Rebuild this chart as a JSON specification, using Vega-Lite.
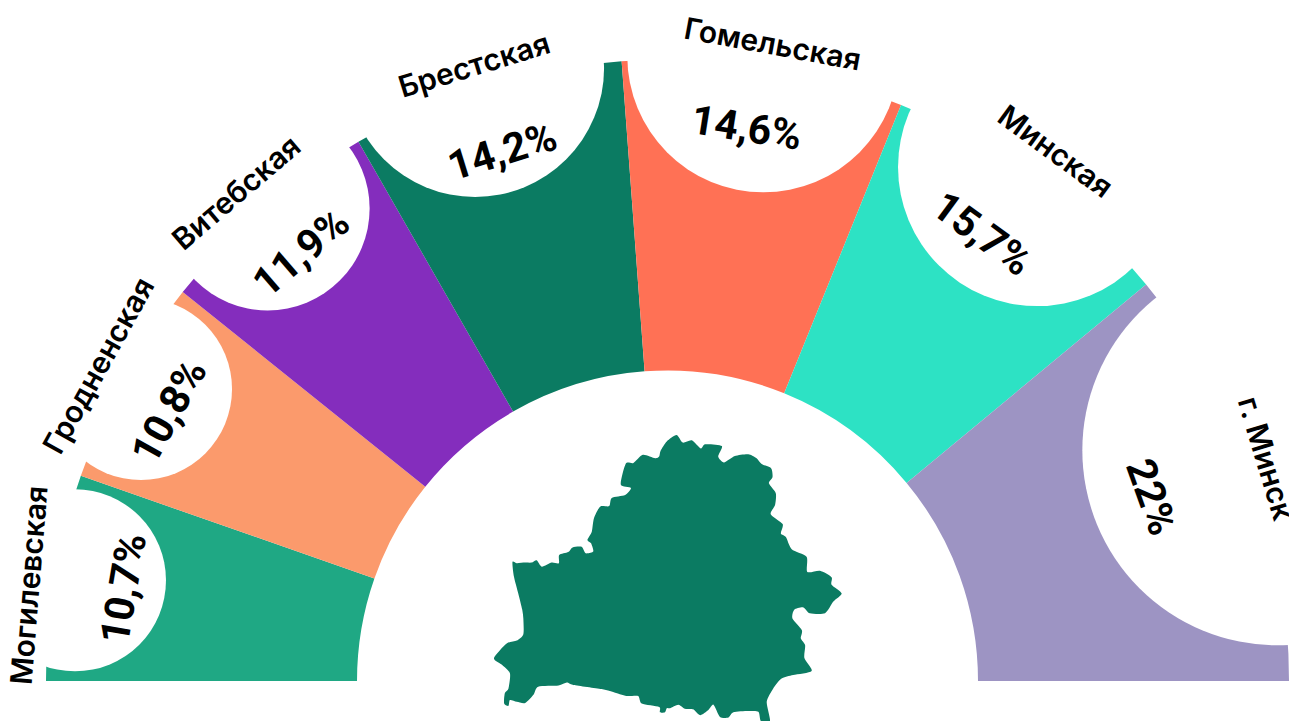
{"$schema":"https://vega.github.io/schema/vega-lite/v6.json","width":1289,"height":721,"padding":0,"autosize":{"type":"none"},"background":"white","config":{"view":{"stroke":null}},"datasets":{"regions":[{"region":"Могилевская","share":10.7,"label":"10,7%","rank":1},{"region":"Гродненская","share":10.8,"label":"10,8%","rank":2},{"region":"Витебская","share":11.9,"label":"11,9%","rank":3},{"region":"Брестская","share":14.2,"label":"14,2%","rank":4},{"region":"Гомельская","share":14.6,"label":"14,6%","rank":5},{"region":"Минская","share":15.7,"label":"15,7%","rank":6},{"region":"г. Минск","share":22,"label":"22%","rank":7}],"outline":[{"n":1,"lon":23.69,"lat":53.99},{"n":2,"lon":23.81,"lat":53.97},{"n":3,"lon":24.04,"lat":53.98},{"n":4,"lon":24.22,"lat":53.98},{"n":5,"lon":24.36,"lat":54.02},{"n":6,"lon":24.5,"lat":53.91},{"n":7,"lon":24.77,"lat":53.98},{"n":8,"lon":24.97,"lat":53.97},{"n":9,"lon":24.98,"lat":54.11},{"n":10,"lon":25.23,"lat":54.16},{"n":11,"lon":25.35,"lat":54.24},{"n":12,"lon":25.6,"lat":54.25},{"n":13,"lon":25.71,"lat":54.14},{"n":14,"lon":25.92,"lat":54.17},{"n":15,"lon":25.86,"lat":54.31},{"n":16,"lon":25.76,"lat":54.37},{"n":17,"lon":25.88,"lat":54.51},{"n":18,"lon":25.94,"lat":54.74},{"n":19,"lon":26.11,"lat":54.94},{"n":20,"lon":26.36,"lat":54.95},{"n":21,"lon":26.43,"lat":55.09},{"n":22,"lon":26.8,"lat":55.14},{"n":23,"lon":26.96,"lat":55.26},{"n":24,"lon":26.68,"lat":55.32},{"n":25,"lon":26.82,"lat":55.68},{"n":26,"lon":27.03,"lat":55.69},{"n":27,"lon":27.29,"lat":55.83},{"n":28,"lon":27.63,"lat":55.77},{"n":29,"lon":27.74,"lat":55.8},{"n":30,"lon":27.78,"lat":55.9},{"n":31,"lon":27.95,"lat":56.06},{"n":32,"lon":28.22,"lat":56.17},{"n":33,"lon":28.39,"lat":56.04},{"n":34,"lon":28.64,"lat":56.08},{"n":35,"lon":28.89,"lat":55.94},{"n":36,"lon":29.01,"lat":56.01},{"n":37,"lon":29.47,"lat":55.98},{"n":38,"lon":29.37,"lat":55.8},{"n":39,"lon":29.53,"lat":55.7},{"n":40,"lon":29.83,"lat":55.81},{"n":41,"lon":30.2,"lat":55.84},{"n":42,"lon":30.43,"lat":55.77},{"n":43,"lon":30.57,"lat":55.67},{"n":44,"lon":30.83,"lat":55.6},{"n":45,"lon":30.87,"lat":55.45},{"n":46,"lon":30.77,"lat":55.34},{"n":47,"lon":30.96,"lat":55.17},{"n":48,"lon":30.94,"lat":54.97},{"n":49,"lon":30.82,"lat":54.81},{"n":50,"lon":31.15,"lat":54.64},{"n":51,"lon":31.1,"lat":54.48},{"n":52,"lon":31.24,"lat":54.42},{"n":53,"lon":31.4,"lat":54.21},{"n":54,"lon":31.81,"lat":54.08},{"n":55,"lon":31.83,"lat":53.82},{"n":56,"lon":32.18,"lat":53.84},{"n":57,"lon":32.5,"lat":53.73},{"n":58,"lon":32.5,"lat":53.6},{"n":59,"lon":32.78,"lat":53.45},{"n":60,"lon":32.55,"lat":53.31},{"n":61,"lon":32.32,"lat":53.11},{"n":62,"lon":31.9,"lat":53.11},{"n":63,"lon":31.72,"lat":53.21},{"n":64,"lon":31.47,"lat":53.17},{"n":65,"lon":31.42,"lat":53.02},{"n":66,"lon":31.68,"lat":52.82},{"n":67,"lon":31.65,"lat":52.68},{"n":68,"lon":31.77,"lat":52.56},{"n":69,"lon":31.75,"lat":52.34},{"n":70,"lon":31.95,"lat":52.12},{"n":71,"lon":31.44,"lat":52.05},{"n":72,"lon":31.12,"lat":51.99},{"n":73,"lon":30.89,"lat":51.82},{"n":74,"lon":30.71,"lat":51.59},{"n":75,"lon":30.8,"lat":51.26},{"n":76,"lon":30.55,"lat":51.26},{"n":77,"lon":30.48,"lat":51.42},{"n":78,"lon":30.2,"lat":51.43},{"n":79,"lon":29.79,"lat":51.41},{"n":80,"lon":29.65,"lat":51.32},{"n":81,"lon":29.42,"lat":51.33},{"n":82,"lon":29.24,"lat":51.54},{"n":83,"lon":29.1,"lat":51.45},{"n":84,"lon":28.87,"lat":51.36},{"n":85,"lon":28.68,"lat":51.46},{"n":86,"lon":28.45,"lat":51.47},{"n":87,"lon":28.27,"lat":51.54},{"n":88,"lon":28.04,"lat":51.48},{"n":89,"lon":27.95,"lat":51.48},{"n":90,"lon":27.9,"lat":51.41},{"n":91,"lon":27.76,"lat":51.41},{"n":92,"lon":27.74,"lat":51.5},{"n":93,"lon":27.26,"lat":51.56},{"n":94,"lon":27.16,"lat":51.69},{"n":95,"lon":26.84,"lat":51.69},{"n":96,"lon":26.47,"lat":51.76},{"n":97,"lon":26.15,"lat":51.81},{"n":98,"lon":25.37,"lat":51.88},{"n":99,"lon":25.19,"lat":51.92},{"n":100,"lon":24.96,"lat":51.87},{"n":101,"lon":24.4,"lat":51.85},{"n":102,"lon":24.27,"lat":51.71},{"n":103,"lon":24.04,"lat":51.57},{"n":104,"lon":23.81,"lat":51.59},{"n":105,"lon":23.62,"lat":51.62},{"n":106,"lon":23.58,"lat":51.52},{"n":107,"lon":23.46,"lat":51.56},{"n":108,"lon":23.48,"lat":51.74},{"n":109,"lon":23.58,"lat":51.82},{"n":110,"lon":23.62,"lat":52.08},{"n":111,"lon":23.39,"lat":52.23},{"n":112,"lon":23.18,"lat":52.34},{"n":113,"lon":23.53,"lat":52.59},{"n":114,"lon":23.81,"lat":52.64},{"n":115,"lon":23.99,"lat":52.75},{"n":116,"lon":23.99,"lat":53.02},{"n":117,"lon":23.96,"lat":53.17},{"n":118,"lon":23.85,"lat":53.45},{"n":119,"lon":23.73,"lat":53.74}]},"layer":[{"data":{"name":"regions"},"mark":{"type":"arc","innerRadius":310.5,"outerRadius":621.5,"x":667.5,"y":681},"encoding":{"theta":{"field":"share","type":"quantitative","stack":true,"scale":{"domain":[0,99.9],"range":[-1.5708,1.5708]}},"order":{"field":"rank"},"color":{"field":"region","type":"nominal","legend":null,"scale":{"domain":["Могилевская","Гродненская","Витебская","Брестская","Гомельская","Минская","г. Минск"],"range":["#1fa884","#fb9a6c","#842dbd","#0b7b62","#ff7155","#2de2c4","#9d94c3"]}}}},{"data":{"name":"regions"},"transform":[{"window":[{"op":"sum","field":"share","as":"cum"}],"sort":[{"field":"rank"}]},{"calculate":"(datum.cum-datum.share/2)*PI/99.9+[0,0,0.3,-0.4,-0.2,-0.5,-0.9][datum.rank-1]*PI/180","as":"mid"},{"calculate":"[601,602,619,642.5,632,633,652][datum.rank-1]","as":"R"},{"calculate":"667.5-datum.R*cos(datum.mid)","as":"px"},{"calculate":"681-datum.R*sin(datum.mid)","as":"py"}],"mark":{"type":"circle","opacity":1,"fill":"white","stroke":null,"clip":false},"encoding":{"x":{"field":"px","type":"quantitative","axis":null,"scale":{"domain":[0,1289],"range":[0,1289]}},"y":{"field":"py","type":"quantitative","axis":null,"scale":{"domain":[0,721],"range":[0,721]}},"size":{"field":"share","type":"quantitative","legend":null,"scale":{"domain":[10.7,10.8,11.9,14.2,14.6,15.7,22],"range":[33124,33124,41616,66564,73984,77284,152100]}}}},{"data":{"name":"regions"},"transform":[{"window":[{"op":"sum","field":"share","as":"cum"}],"sort":[{"field":"rank"}]},{"calculate":"(datum.cum-datum.share/2)*PI/99.9","as":"mid"},{"calculate":"datum.mid+[0,-0.6,0,-0.3,-0.8,-1.1,-1][datum.rank-1]*PI/180","as":"pos"},{"calculate":"[550,565,562,553,557,545,516][datum.rank-1]","as":"R"},{"calculate":"667.5-datum.R*cos(datum.pos)","as":"px"},{"calculate":"681-datum.R*sin(datum.pos)","as":"py"},{"calculate":"datum.mid*180/PI-90","as":"rot"}],"mark":{"type":"text","font":"Roboto","fontWeight":700,"fontSize":41,"align":"center","baseline":"middle","color":"black"},"encoding":{"x":{"field":"px","type":"quantitative","axis":null,"scale":{"domain":[0,1289],"range":[0,1289]}},"y":{"field":"py","type":"quantitative","axis":null,"scale":{"domain":[0,721],"range":[0,721]}},"text":{"field":"label"},"angle":{"field":"rot","type":"quantitative","scale":null}}},{"data":{"name":"regions"},"transform":[{"window":[{"op":"sum","field":"share","as":"cum"}],"sort":[{"field":"rank"}]},{"calculate":"(datum.cum-datum.share/2)*PI/99.9","as":"mid"},{"calculate":"datum.mid+[-1.1,0,-0.9,-0.4,0.45,0,-0.6][datum.rank-1]*PI/180","as":"pos"},{"calculate":"[644,649,650,644,644,655,637][datum.rank-1]","as":"R"},{"calculate":"667.5-datum.R*cos(datum.pos)","as":"px"},{"calculate":"681-datum.R*sin(datum.pos)","as":"py"},{"calculate":"datum.mid*180/PI-90+[-5,0,0,0,1.5,0,3][datum.rank-1]","as":"rot"}],"mark":{"type":"text","font":"Inter","fontWeight":600,"fontSize":30,"align":"center","baseline":"middle","color":"black"},"encoding":{"x":{"field":"px","type":"quantitative","axis":null,"scale":{"domain":[0,1289],"range":[0,1289]}},"y":{"field":"py","type":"quantitative","axis":null,"scale":{"domain":[0,721],"range":[0,721]}},"text":{"field":"region"},"angle":{"field":"rot","type":"quantitative","scale":null}}},{"data":{"name":"outline"},"mark":{"type":"line","filled":true,"fill":"#0b7b62","stroke":null,"interpolate":"cardinal-closed","tension":0.3,"clip":false},"encoding":{"x":{"field":"lon","type":"quantitative","axis":null,"scale":{"domain":[23.18,32.78],"range":[494,841.7]}},"y":{"field":"lat","type":"quantitative","axis":null,"scale":{"domain":[51.26,56.17],"range":[721,435]}},"order":{"field":"n"}}}],"resolve":{"scale":{"x":"independent","y":"independent","size":"independent"}}}
